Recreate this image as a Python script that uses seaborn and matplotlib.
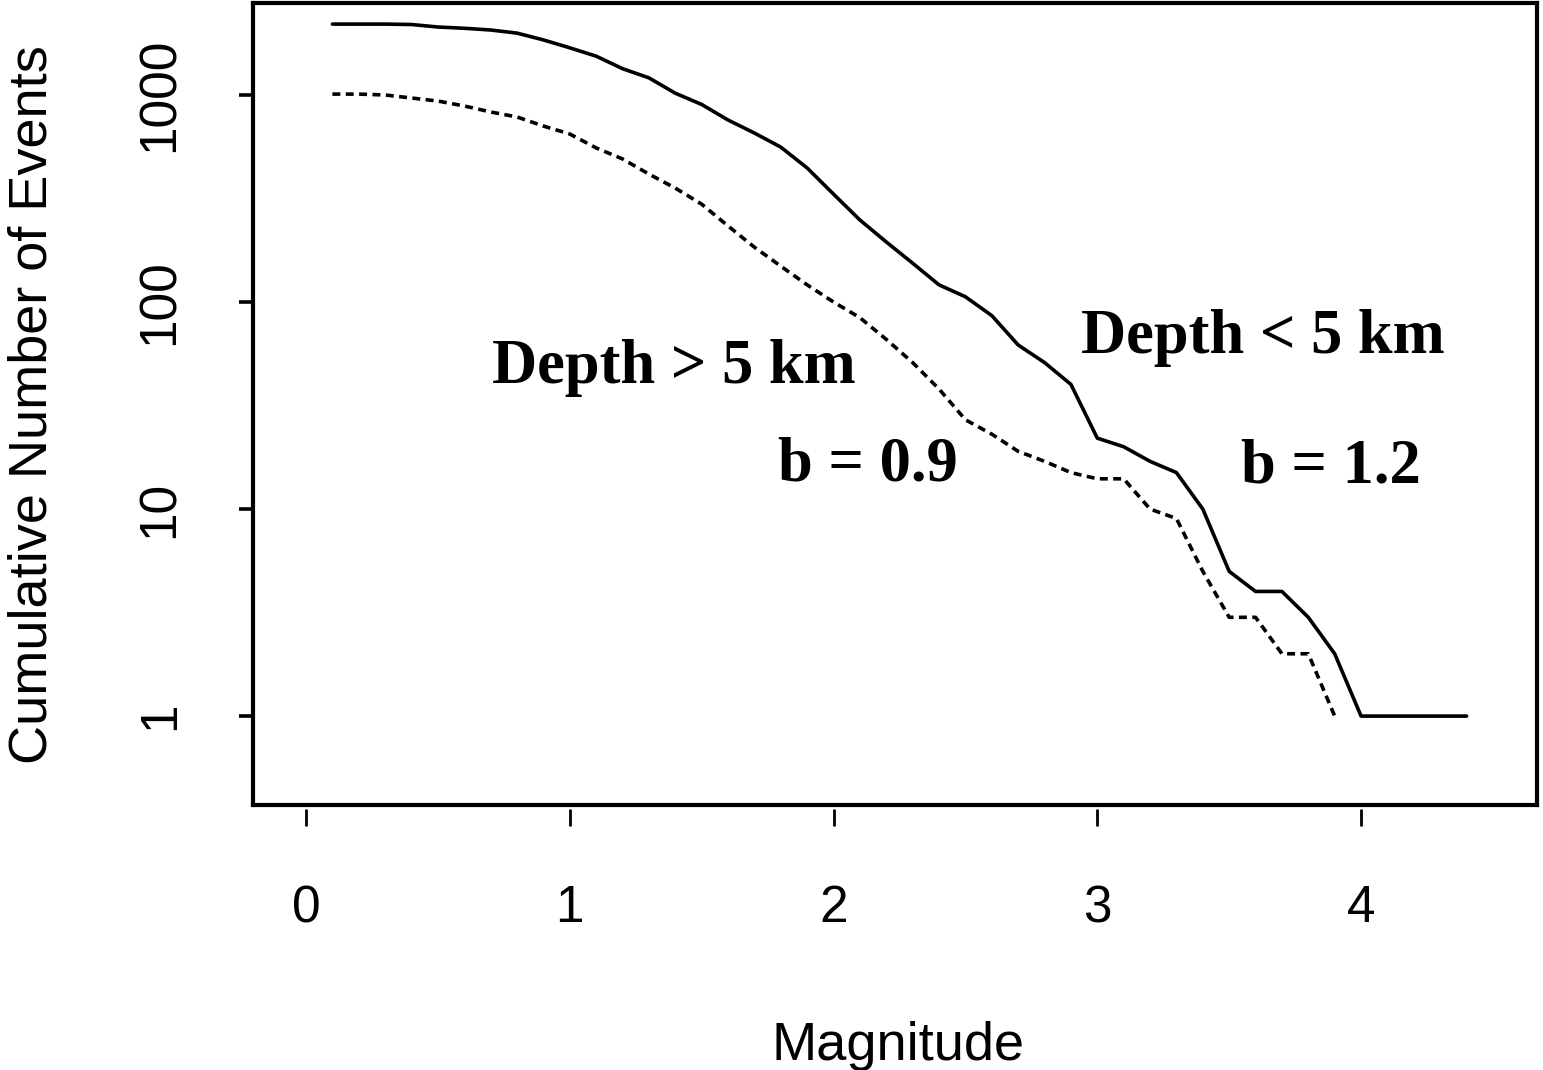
import numpy as np
import pandas as pd
import matplotlib
matplotlib.use("Agg")
import matplotlib.pyplot as plt
import seaborn as sns

# Cumulative frequency-magnitude distributions (Gutenberg-Richter)
mag_shallow = [0.1, 0.2, 0.3, 0.4, 0.5, 0.6, 0.7, 0.8, 0.9, 1.0,
               1.1, 1.2, 1.3, 1.4, 1.5, 1.6, 1.7, 1.8, 1.9, 2.0,
               2.1, 2.2, 2.3, 2.4, 2.5, 2.6, 2.7, 2.8, 2.9, 3.0,
               3.1, 3.2, 3.3, 3.4, 3.5, 3.6, 3.7, 3.8, 3.9, 4.0,
               4.1, 4.2, 4.3, 4.4]
count_shallow = [2200, 2200, 2200, 2190, 2130, 2100, 2060, 1990, 1845, 1690,
                 1540, 1340, 1210, 1020, 900, 757, 655, 560, 444, 332,
                 249, 195, 154, 121, 106, 86, 62, 51, 40, 22,
                 20, 17, 15, 10, 5, 4, 4, 3, 2, 1,
                 1, 1, 1, 1]

mag_deep = [0.1, 0.2, 0.3, 0.4, 0.5, 0.6, 0.7, 0.8, 0.9, 1.0,
            1.1, 1.2, 1.3, 1.4, 1.5, 1.6, 1.7, 1.8, 1.9, 2.0,
            2.1, 2.2, 2.3, 2.4, 2.5, 2.6, 2.7, 2.8, 2.9, 3.0,
            3.1, 3.2, 3.3, 3.4, 3.5, 3.6, 3.7, 3.8, 3.9]
count_deep = [1010, 1010, 1000, 967, 935, 885, 828, 783, 708, 648,
              555, 491, 415, 355, 297, 233, 184, 149, 121, 100,
              84, 66, 51, 38, 27, 23, 19, 17, 15, 14,
              14, 10, 9, 5, 3, 3, 2, 2, 1]

x_ticks = [0, 1, 2, 3, 4]
x_tick_labels = ["0", "1", "2", "3", "4"]
y_ticks = [1, 10, 100, 1000]
y_tick_labels = ["1", "10", "100", "1000"]

annotations = [
    ("Depth > 5 km", 1.393, 40.6),
    ("b = 0.9", 2.131, 13.8),
    ("Depth < 5 km", 3.629, 56.7),
    ("b = 1.2", 3.886, 13.5),
]

df_shallow = pd.DataFrame({"Magnitude": mag_shallow, "N": count_shallow})
df_deep = pd.DataFrame({"Magnitude": mag_deep, "N": count_deep})

sns.set_style("white")
plt.rcParams["font.family"] = ["Liberation Sans", "DejaVu Sans"]
plt.rcParams["text.color"] = "black"
plt.rcParams["axes.labelcolor"] = "black"
plt.rcParams["xtick.color"] = "black"
plt.rcParams["ytick.color"] = "black"

fig = plt.figure(figsize=(15.43, 10.70), dpi=100)
ax = fig.add_axes([0.16397, 0.24766, 0.83214, 0.74954])

sns.lineplot(data=df_shallow, x="Magnitude", y="N", ax=ax, color="black",
             linewidth=2.6, linestyle="-")
sns.lineplot(data=df_deep, x="Magnitude", y="N", ax=ax, color="black",
             linewidth=2.6, linestyle=(0, (2.2, 1.5)))

ax.set_yscale("log")
ax.set_xlim(-0.201, 4.667)
ax.set_ylim(0.372, 2782)

ax.set_xticks(x_ticks)
ax.set_xticklabels(x_tick_labels)
ax.set_yticks(y_ticks)
ax.set_yticklabels(y_tick_labels, rotation=90, va="center")
ax.yaxis.set_minor_locator(matplotlib.ticker.NullLocator())
ax.xaxis.set_minor_locator(matplotlib.ticker.NullLocator())

ax.tick_params(axis="x", direction="out", length=12, width=2, pad=42,
               labelsize=37, bottom=True, colors="black")
ax.tick_params(axis="y", direction="out", length=10, width=2.6, pad=39,
               labelsize=37, left=True, colors="black")

ax.set_xlabel("")
ax.set_ylabel("")

# frame: bottom axis line is drawn separately so the x ticks sit just below the box
for side in ["left", "top", "right"]:
    ax.spines[side].set_visible(True)
    ax.spines[side].set_linewidth(3)
    ax.spines[side].set_color("black")
ax.spines["bottom"].set_position(("outward", 3))
ax.spines["bottom"].set_visible(False)
ax.plot([0, 1], [0, 0], transform=ax.transAxes, color="black", linewidth=3,
        clip_on=False, solid_capstyle="projecting")

for label, xv, yv in annotations:
    ax.text(xv, yv, label, ha="center", va="baseline", color="black",
            fontfamily=["Liberation Serif", "DejaVu Serif"],
            fontweight="bold", fontsize=45)

fig.text(898 / 1543, 1 - 1060 / 1070, "Magnitude", ha="center",
         va="baseline", fontsize=39, color="black")
fig.text(47 / 1543, 1 - 405 / 1070, "Cumulative Number of Events",
         ha="center", va="baseline", rotation=90, rotation_mode="anchor",
         fontsize=39, color="black")

fig.savefig("out.png", dpi=100, facecolor="white")
